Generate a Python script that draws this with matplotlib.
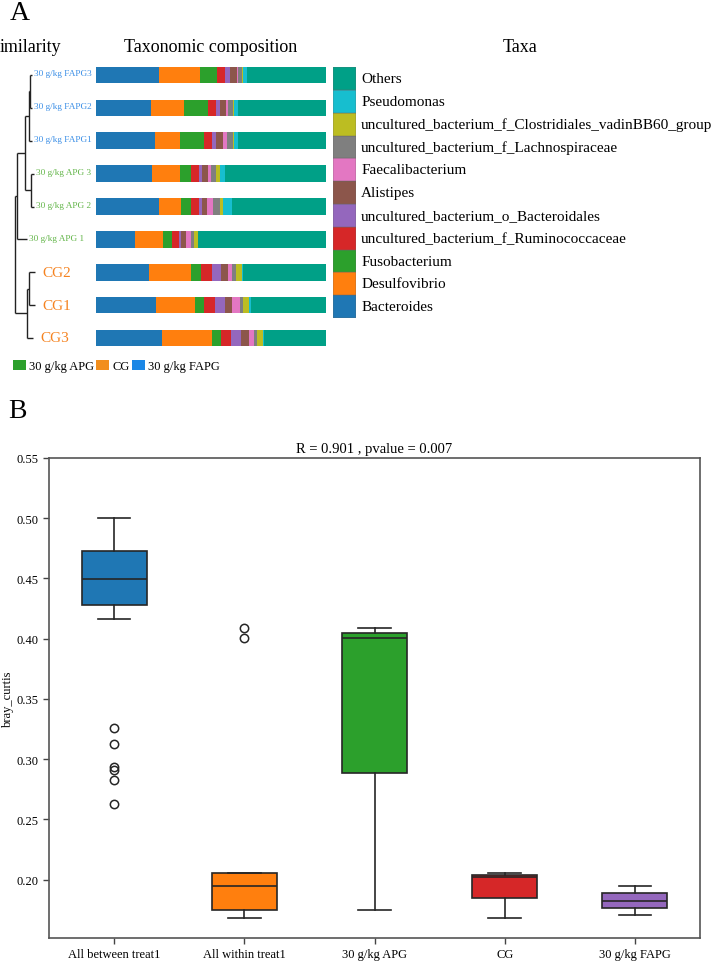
import matplotlib
matplotlib.use("Agg")
import matplotlib.pyplot as plt
from matplotlib.patches import Patch

plt.rcParams['font.family'] = ['Liberation Serif', 'DejaVu Serif']

# ---- panel A data ----
taxa = ["Bacteroides", "Desulfovibrio", "Fusobacterium",
        "uncultured_bacterium_f_Ruminococcaceae",
        "uncultured_bacterium_o_Bacteroidales", "Alistipes",
        "Faecalibacterium", "uncultured_bacterium_f_Lachnospiraceae",
        "uncultured_bacterium_f_Clostridiales_vadinBB60_group",
        "Pseudomonas", "Others"]
taxa_colors = ["#1f77b4", "#ff7f0e", "#2ca02c", "#d62728", "#9467bd", "#8c564b",
               "#e377c2", "#7f7f7f", "#bcbd22", "#17becf", "#00a087"]

samples = ["30 g/kg FAPG3", "30 g/kg FAPG2", "30 g/kg FAPG1",
           "30 g/kg APG 3", "30 g/kg APG 2", "30 g/kg APG 1",
           "CG2", "CG1", "CG3"]
sample_group = ["FAPG", "FAPG", "FAPG", "APG", "APG", "APG", "CG", "CG", "CG"]

# relative abundance (%) in taxa order
fapg3 = [27.4, 17.7, 7.5, 3.3, 2.3, 2.9, 0.6, 1.6, 0.6, 1.7, 34.3]
fapg2 = [23.9, 14.4, 10.2, 3.6, 1.9, 2.5, 1.0, 2.0, 0.6, 1.7, 38.2]
fapg1 = [25.5, 11.2, 10.3, 3.3, 1.9, 2.9, 1.6, 2.6, 0.6, 1.7, 38.3]
apg3 = [24.4, 12.3, 4.6, 3.3, 1.3, 2.8, 1.3, 2.3, 1.6, 2.2, 43.8]
apg2 = [27.3, 9.7, 4.4, 3.3, 1.3, 2.2, 2.8, 2.9, 1.5, 3.6, 41.1]
apg1 = [17.0, 12.3, 3.8, 3.0, 1.0, 2.0, 2.2, 1.2, 1.6, 0.1, 55.7]
cg2 = [23.1, 18.3, 4.4, 4.6, 4.1, 2.8, 2.0, 1.7, 2.6, 0.3, 36.1]
cg1 = [26.0, 17.1, 3.9, 4.6, 4.5, 2.9, 3.8, 1.0, 2.8, 0.7, 32.7]
cg3 = [28.7, 21.8, 3.9, 4.1, 4.6, 3.3, 2.3, 1.2, 2.8, 0.1, 27.1]
rows = [fapg3, fapg2, fapg1, apg3, apg2, apg1, cg2, cg1, cg3]

# dendrogram: tip depth of each leaf, merges (child a, child b, depth)
leaf_depth = [16.5, 16.5, 16.5, 18.0, 18.0, 11.5, 19.5, 19.5, 17.5]
merges = [(0, 1, 14.0), (9, 2, 13.5), (3, 4, 15.5), (10, 11, 9.5),
          (12, 5, 1.0), (6, 7, 13.5), (14, 8, 11.5), (13, 15, 0.0)]

group_names = ["30 g/kg APG", "CG", "30 g/kg FAPG"]
group_colors = ["#2ca02c", "#f28e1c", "#1b87e6"]
label_colors = {"FAPG": "#3a8ee6", "APG": "#62b548", "CG": "#f5821f"}

# ---- panel B data ----
box_names = ["All between treat1", "All within treat1", "30 g/kg APG", "CG", "30 g/kg FAPG"]
box_colors = ["#1f77b4", "#ff7f0e", "#2ca02c", "#d62728", "#9467bd"]
whislo = [0.4167, 0.1683, 0.1749, 0.1683, 0.1705]
q1 = [0.4277, 0.1749, 0.2883, 0.1851, 0.1766]
med = [0.4499, 0.1948, 0.4004, 0.2023, 0.1826]
q3 = [0.4726, 0.2051, 0.4050, 0.2037, 0.1888]
whishi = [0.5000, 0.2051, 0.4092, 0.2051, 0.1948]
fliers = [[0.3262, 0.3127, 0.2938, 0.2913, 0.2825, 0.2626],
          [0.4092, 0.4004], [], [], []]

W, H = 714, 962
fig = plt.figure(figsize=(W / 100, H / 100), dpi=100)


def rect(x0, y0, x1, y1):
    return [x0 / W, 1 - y1 / H, (x1 - x0) / W, (y1 - y0) / H]


# stacked bars
ax_bar = fig.add_axes(rect(96, 59.6, 326, 355.4))
n = len(rows)
for i, row in enumerate(rows):
    total = sum(row)
    left = 0
    for v, c in zip(row, taxa_colors):
        w = v / total * 100
        ax_bar.barh(i, w, left=left, height=0.51, color=c, linewidth=0)
        left += w
ax_bar.set_xlim(0, 100)
ax_bar.set_ylim(n - 0.5, -0.5)
ax_bar.axis("off")

# dendrogram
ax_den = fig.add_axes(rect(0, 59.6, 96, 355.4))
ax_den.set_xlim(-15.5, 80.5)
ax_den.set_ylim(n - 0.5, -0.5)
ax_den.axis("off")
node_x = list(leaf_depth)
node_y = list(range(n))
for a, b, d in merges:
    ya, yb = node_y[a], node_y[b]
    ax_den.plot([d, d], [ya, yb], color="#222222", lw=1.0, solid_capstyle="butt")
    ax_den.plot([d, node_x[a]], [ya, ya], color="#222222", lw=1.0, solid_capstyle="butt")
    ax_den.plot([d, node_x[b]], [yb, yb], color="#222222", lw=1.0, solid_capstyle="butt")
    node_x.append(d)
    node_y.append((ya + yb) / 2)
for i, name in enumerate(samples):
    g = sample_group[i]
    if g == "CG":
        ax_den.text(leaf_depth[i] + 7, i, name, color=label_colors[g],
                    fontsize=11, va="center", ha="left")
    else:
        ax_den.text(leaf_depth[i] + 2, i - 0.05, name, color=label_colors[g],
                    fontsize=6.7, va="center", ha="left")

# taxa legend
ax_leg = fig.add_axes(rect(333, 68.3, 356, 319))
for k, c in enumerate(taxa_colors):
    ax_leg.bar(0, 1, bottom=k - 0.5, width=1, color=c, edgecolor="#666666", linewidth=0.3)
    ax_leg.text(0.72, k, taxa[k], fontsize=11, va="center", ha="left", clip_on=False)
ax_leg.set_xlim(-0.5, 0.5)
ax_leg.set_ylim(-0.5, len(taxa) - 0.5)
ax_leg.axis("off")

# headers
fig.text(20 / W, 1 - 14 / H, "A", fontsize=20, ha="center", va="center")
fig.text(0, 1 - 48 / H, "imilarity", fontsize=13, ha="left", va="center")
fig.text(211 / W, 1 - 48 / H, "Taxonomic composition", fontsize=13, ha="center", va="center")
fig.text(520 / W, 1 - 48 / H, "Taxa", fontsize=13, ha="center", va="center")

# group legend
handles = [Patch(facecolor=c, edgecolor="none") for c in group_colors]
fig.legend(handles, group_names, loc="center left", bbox_to_anchor=(13 / W, 1 - 367 / H),
           ncol=3, frameon=False, fontsize=9, handlelength=1.05, handleheight=0.9,
           handletextpad=0.25, columnspacing=0.15, borderpad=0, borderaxespad=0)

# ---- panel B ----
fig.text(17 / W, 1 - 412 / H, "B", fontsize=20, ha="center", va="center")
ax = fig.add_axes(rect(49, 459, 700, 939))
stats = []
for k in range(len(box_names)):
    stats.append(dict(med=med[k], q1=q1[k], q3=q3[k], whislo=whislo[k],
                      whishi=whishi[k], fliers=fliers[k], label=box_names[k]))
edge = "#262626"
bp = ax.bxp(stats, positions=range(len(box_names)), widths=0.5, patch_artist=True,
            boxprops=dict(edgecolor=edge, linewidth=1.2),
            medianprops=dict(color=edge, linewidth=1.2),
            whiskerprops=dict(color=edge, linewidth=1.2),
            capprops=dict(color=edge, linewidth=1.2),
            flierprops=dict(marker="o", markerfacecolor="none", markeredgecolor=edge,
                            markersize=6, markeredgewidth=1.1))
for patch, c in zip(bp["boxes"], box_colors):
    patch.set_facecolor(c)
ax.set_xlim(-0.5, len(box_names) - 0.5)
ax.set_ylim(0.1515, 0.55)
yt = [0.20, 0.25, 0.30, 0.35, 0.40, 0.45, 0.50, 0.55]
ax.set_yticks(yt)
ax.set_yticklabels(["%.2f" % t for t in yt])
ax.tick_params(labelsize=9, length=4, width=1, color="#444444")
for s in ax.spines.values():
    s.set_color("#555555")
    s.set_linewidth(1.2)
ax.set_ylabel("bray_curtis", fontsize=9)
ax.yaxis.set_label_coords(-0.0545, 0.5)
ax.set_title("R = 0.901 , pvalue = 0.007", fontsize=10.5, pad=4)

fig.savefig("out.png", dpi=100)
